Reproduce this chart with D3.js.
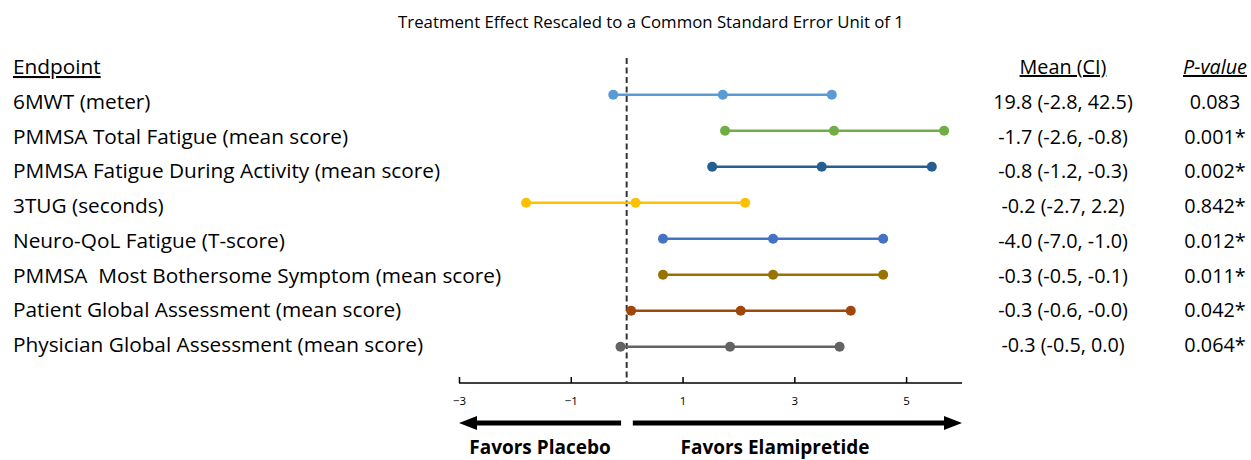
<!DOCTYPE html>
<html><head><meta charset="utf-8">
<script src="https://cdn.jsdelivr.net/npm/d3@7"></script>
<style>
html,body{margin:0;padding:0;background:#fff;}
svg text{font-family:"Open Sans",Lato,sans-serif;fill:#000;}
</style></head>
<body><svg id="c" width="1251" height="460"></svg>
<script>
const endpoints = [
  "6MWT (meter)",
  "PMMSA Total Fatigue (mean score)",
  "PMMSA Fatigue During Activity (mean score)",
  "3TUG (seconds)",
  "Neuro-QoL Fatigue (T-score)",
  "PMMSA  Most Bothersome Symptom (mean score)",
  "Patient Global Assessment (mean score)",
  "Physician Global Assessment (mean score)"
];
const lower = [-0.24, 1.76, 1.53, -1.80, 0.65, 0.65, 0.08, -0.11];
const mean  = [1.72, 3.71, 3.49, 0.16, 2.62, 2.62, 2.04, 1.85];
const upper = [3.67, 5.68, 5.46, 2.12, 4.59, 4.59, 4.01, 3.81];
const meanCI = ["19.8 (-2.8, 42.5)","-1.7 (-2.6, -0.8)","-0.8 (-1.2, -0.3)","-0.2 (-2.7, 2.2)","-4.0 (-7.0, -1.0)","-0.3 (-0.5, -0.1)","-0.3 (-0.6, -0.0)","-0.3 (-0.5, 0.0)"];
const pvalues = ["0.083","0.001*","0.002*","0.842*","0.012*","0.011*","0.042*","0.064*"];
const colors = ["#5B9BD5","#70AD47","#255E91","#FFC000","#4472C4","#997300","#9E480E","#636363"];
const tickValues = [-3,-1,1,3,5];

const svg = d3.select("#c");
const x = d3.scaleLinear().domain([-3, 6]).range([459, 962]);
const y = d3.scalePoint().domain(endpoints).range([94.7, 346.7]);
const yText = d3.scalePoint().domain(endpoints).range([109, 352]);
const axisY = 383;
const fs = "20.8px", fsCol = "19.8px";

// title
svg.append("text").attr("x", 651).attr("y", 28).attr("text-anchor","middle")
  .style("font-size","16.8px").text("Treatment Effect Rescaled to a Common Standard Error Unit of 1");

// headers
svg.append("text").attr("x", 13).attr("y", 74).style("font-size",fs)
  .style("text-decoration","underline").text("Endpoint");
svg.append("text").attr("x", 1063).attr("y", 74).attr("text-anchor","middle").style("font-size",fsCol)
  .style("text-decoration","underline").text("Mean (CI)");
svg.append("text").attr("x", 1215).attr("y", 74).attr("text-anchor","middle").style("font-size",fsCol)
  .style("font-style","italic").style("text-decoration","underline").text("P-value");

// axis
const axis = d3.axisBottom(x).tickValues(tickValues).tickSize(6).tickSizeOuter(0).tickFormat(d3.format("d"));
const gA = svg.append("g").attr("transform", `translate(0,${axisY})`).call(axis);
gA.select(".domain").attr("stroke","#000").attr("stroke-width",1.5).attr("d", `M${x(-3)},0H${x(6)}`);
gA.selectAll(".tick line").attr("stroke","#000").attr("stroke-width",1.5).attr("y1",-6).attr("y2",0);
gA.selectAll(".tick text").attr("y", 14).style("font-family","'Open Sans',sans-serif").style("font-size","11.5px").attr("fill","#000");

// dashed zero line
svg.append("line").attr("x1", x(0)).attr("x2", x(0)).attr("y1", 58).attr("y2", axisY)
  .attr("stroke","#333").attr("stroke-width",2).attr("stroke-dasharray","6,3.5");

// rows
endpoints.forEach((e,i) => {
  const cy = y(e), ty = yText(e);
  const g = svg.append("g");
  g.append("line").attr("x1", x(lower[i])).attr("x2", x(upper[i])).attr("y1", cy).attr("y2", cy)
    .attr("stroke", colors[i]).attr("stroke-width", 2.5);
  [lower[i], mean[i], upper[i]].forEach(v => {
    g.append("circle").attr("cx", x(v)).attr("cy", cy).attr("r", 5).attr("fill", colors[i]);
  });
  svg.append("text").attr("x", 13).attr("y", ty).style("font-size",fs).style("white-space","pre").text(e);
  svg.append("text").attr("x", 1063).attr("y", ty).attr("text-anchor","middle").style("font-size",fsCol).text(meanCI[i]);
  svg.append("text").attr("x", 1215).attr("y", ty).attr("text-anchor","middle").style("font-size",fsCol).text(pvalues[i]);
});

// arrows
const arrowY = 423;
function arrow(x0, x1) {
  const dir = Math.sign(x1 - x0);
  const head = 18, hh = 7, lw = 2.6;
  const xb = x1 - dir*head;
  const pts = [[x0, arrowY-lw],[xb, arrowY-lw],[xb, arrowY-hh],[x1, arrowY],[xb, arrowY+hh],[xb, arrowY+lw],[x0, arrowY+lw]];
  svg.append("path").attr("d", d3.line()(pts) + "Z").attr("fill","#000");
}
arrow(x(-0.1), x(-3));
arrow(x(0.11), x(6));

svg.append("text").attr("x", 540).attr("y", 454).attr("text-anchor","middle")
  .style("font-size","19px").style("font-weight","bold").text("Favors Placebo");
svg.append("text").attr("x", 775).attr("y", 454).attr("text-anchor","middle")
  .style("font-size","19px").style("font-weight","bold").text("Favors Elamipretide");
</script></body></html>
